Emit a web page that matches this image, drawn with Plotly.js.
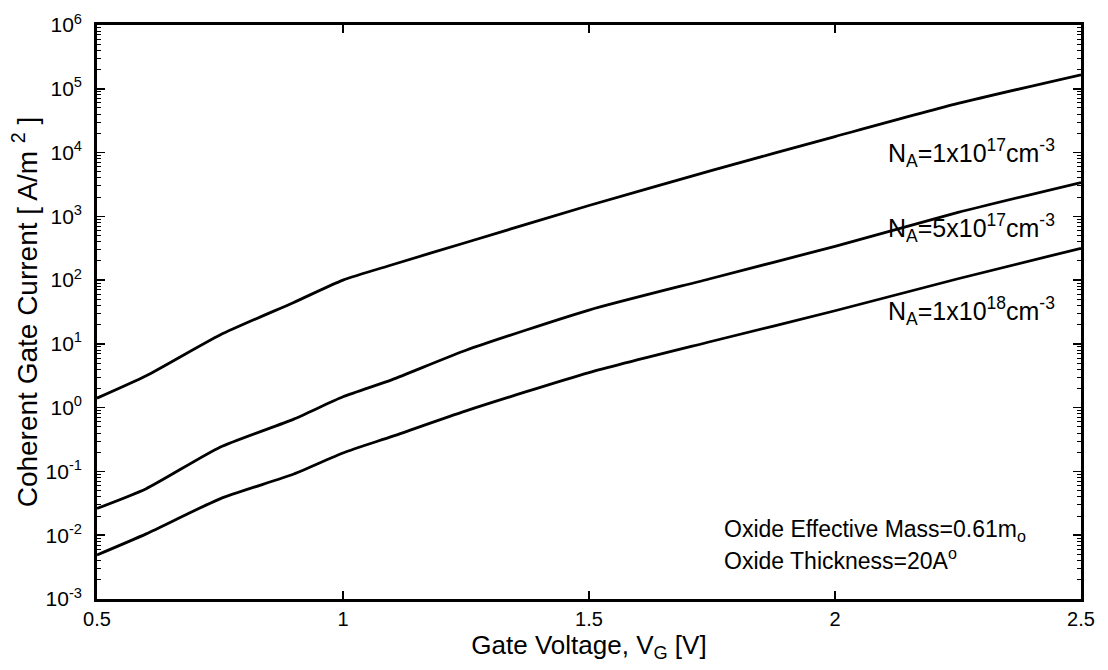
<!DOCTYPE html>
<html>
<head>
<meta charset="utf-8">
<script src="https://cdn.plot.ly/plotly-3.0.1.min.js"></script>
<style>
  html, body { margin: 0; padding: 0; background: #fff; }
  #chart { width: 1108px; height: 670px; }
</style>
</head>
<body>
<div id="chart"></div>
<script>
// Gate voltage (V)
const gateVoltage = [0.5, 0.6, 0.75, 0.9, 1.0, 1.1, 1.25, 1.5, 1.75, 2.0, 2.25, 2.5];
// Coherent gate current (A/m^2) for each doping
const current_NA_1e17 = [1.41, 3.16, 13.8, 44.7, 100, 174, 389, 1480, 5250, 17800, 58900, 166000];
const current_NA_5e17 = [0.0263, 0.0537, 0.240, 0.661, 1.48, 2.75, 7.94, 33.9, 107, 339, 1150, 3390];
const current_NA_1e18 = [0.0049, 0.0105, 0.0372, 0.0912, 0.195, 0.355, 0.891, 3.55, 11.0, 33.1, 105, 316];

const seriesLabels = [
  'N<sub>A</sub>=1x10<sup>17</sup>cm<sup>-3</sup>',
  'N<sub>A</sub>=5x10<sup>17</sup>cm<sup>-3</sup>',
  'N<sub>A</sub>=1x10<sup>18</sup>cm<sup>-3</sup>'
];
const seriesLabelY = [4.0, 2.81, 1.52]; // log10 positions of labels

const xTickVals = [0.5, 1, 1.5, 2, 2.5];
const xTickText = ['0.5', '1', '1.5', '2', '2.5'];
const yExponents = [-3, -2, -1, 0, 1, 2, 3, 4, 5, 6];

const font = '"Liberation Sans", Arial, Helvetica, sans-serif';
const lineStyle = {color: '#000', width: 2.8, shape: 'spline', smoothing: 0.6};

const traces = [current_NA_1e17, current_NA_5e17, current_NA_1e18].map(function (ys, i) {
  return {
    x: gateVoltage, y: ys, type: 'scatter', mode: 'lines',
    line: lineStyle, hoverinfo: 'skip', name: seriesLabels[i], showlegend: false
  };
});

// minor log ticks (2..9 within each decade)
const yMinorVals = [];
yExponents.slice(0, -1).forEach(function (e) {
  for (let m = 2; m <= 9; m++) yMinorVals.push(m * Math.pow(10, e));
});

const annotations = seriesLabels.map(function (t, i) {
  return {
    text: t, x: 2.452, y: seriesLabelY[i], xref: 'x', yref: 'y',
    xanchor: 'right', yanchor: 'middle', showarrow: false,
    font: {family: font, size: 25, color: '#000'}
  };
});
annotations.push({
  text: 'Oxide Effective Mass=0.61m<sub>o</sub>', x: 1.77, y: -1.93, xref: 'x', yref: 'y',
  xanchor: 'left', yanchor: 'middle', showarrow: false,
  font: {family: font, size: 23, color: '#000'}
});
annotations.push({
  text: 'Oxide Thickness=20A<sup>o</sup>', x: 1.77, y: -2.37, xref: 'x', yref: 'y',
  xanchor: 'left', yanchor: 'middle', showarrow: false,
  font: {family: font, size: 23, color: '#000'}
});

const layout = {
  width: 1108, height: 670,
  margin: {l: 97, r: 27, t: 25, b: 71},
  paper_bgcolor: '#fff', plot_bgcolor: '#fff',
  font: {family: font, color: '#000', size: 20},
  showlegend: false,
  xaxis: {
    range: [0.5, 2.5], tickvals: xTickVals, ticktext: xTickText,
    ticks: 'inside', ticklen: 8, tickwidth: 1.5, tickcolor: '#000',
    showline: true, linewidth: 2.8, linecolor: '#000', mirror: 'ticks',
    showgrid: false, zeroline: false,
    tickfont: {family: font, size: 20},
    title: {text: 'Gate Voltage, V<sub>G</sub> [V]', font: {family: font, size: 26}, standoff: 2}
  },
  yaxis: {
    type: 'log', range: [-3, 6],
    tickvals: yExponents.map(function (e) { return Math.pow(10, e); }),
    ticktext: yExponents.map(function (e) { return '10<sup>' + e + '</sup>'; }),
    ticks: 'inside', ticklen: 8, tickwidth: 1.5, tickcolor: '#000',
    ticklabelstandoff: 8,
    minor: {tickmode: 'array', tickvals: yMinorVals, ticks: 'inside', ticklen: 4,
            tickwidth: 1, tickcolor: '#000', showgrid: false},
    showline: true, linewidth: 2.8, linecolor: '#000', mirror: 'ticks',
    showgrid: false, zeroline: false,
    tickfont: {family: font, size: 21},
    title: {text: 'Coherent Gate Current [ A/m <sup>2</sup> ]', font: {family: font, size: 28}, standoff: 0}
  },
  annotations: annotations
};

Plotly.newPlot('chart', traces, layout, {displayModeBar: false, staticPlot: true});
</script>
</body>
</html>
